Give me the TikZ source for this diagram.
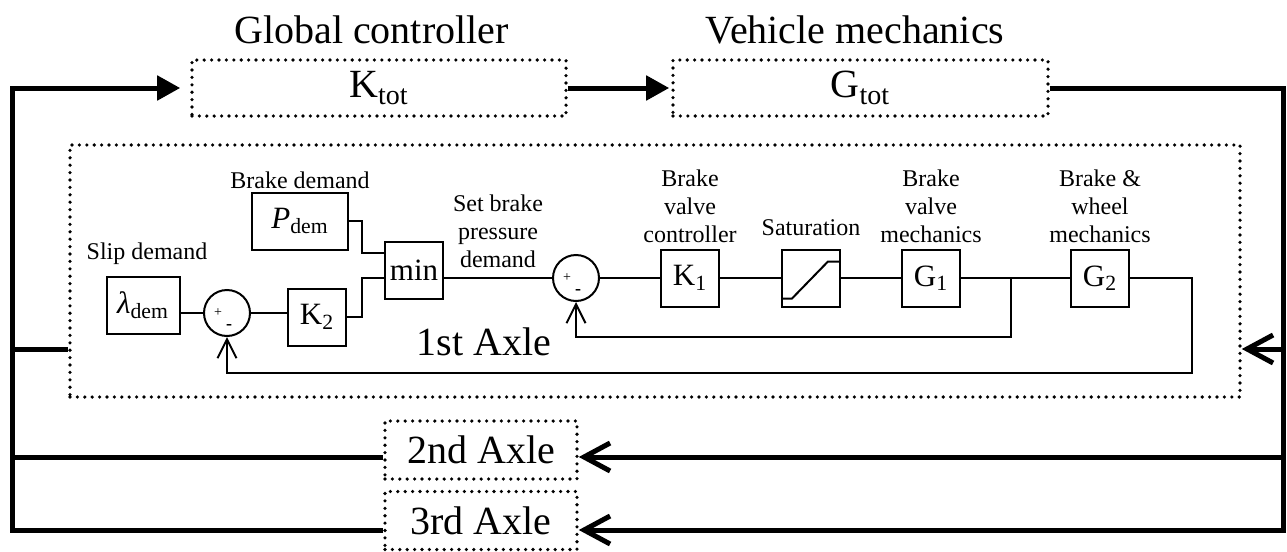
\documentclass[tikz,border=0pt]{standalone}
\usepackage{fontspec}
\setmainfont{Liberation Serif}
\usetikzlibrary{arrows.meta,positioning}

\tikzset{
  blk/.style={draw, line width=1pt, minimum width=29pt, minimum height=28.5pt, inner sep=0pt, font=\fontsize{15.5}{18}\selectfont},
  sumn/.style={draw, circle, line width=1pt, minimum size=23pt, inner sep=0pt},
  sgn/.style={inner sep=0pt, font=\fontsize{7}{8}\selectfont},
  dotbox/.style={draw, line width=1.8pt, dash pattern=on 0pt off 3.7pt, line cap=round, inner sep=0pt, font=\fontsize{20}{24}\selectfont},
  big/.style={inner sep=0pt, font=\fontsize{20}{24}\selectfont},
  lbl/.style={inner sep=0pt, align=center, font=\fontsize{12}{14}\selectfont},
  sig/.style={line width=1pt},
  bus/.style={line width=2.5pt},
  fwd/.style={bus, -{Triangle[length=11.5pt,width=12pt]}, shorten >=1pt},
  back/.style={bus, -{Straight Barb[length=13pt,width=14pt]}},
  fb/.style={sig, -{Straight Barb[length=9.5pt,width=9.5pt]}}
}

\begin{document}
\begin{tikzpicture}[x=0.5pt, y=-0.5pt, on grid, line join=miter]
   \useasboundingbox (0,0) rectangle (1287,552);

   \node[dotbox, minimum width=187pt, minimum height=28pt] (ktot) at (379,88) {K\textsubscript{tot}};
   \node[dotbox, minimum width=187.5pt, minimum height=28pt] (gtot) [right=240.75pt of ktot] {G\textsubscript{tot}};
   \node[big] (ktotlbl) [above left=22.5pt and 3.75pt of ktot, anchor=base] {Global controller};
   \node[big] (gtotlbl) [above left=22.5pt and 2.75pt of gtot, anchor=base] {Vehicle mechanics};

   \node[dotbox, minimum width=585pt, minimum height=126pt] (ax1) at (655,271) {};
   \node[big, anchor=base] (ax1lbl) at (484,355) {1st Axle};
   \node[dotbox, minimum width=96pt, minimum height=29pt] (ax2) at (481,450) {2nd Axle};
   \node[dotbox, minimum width=96pt, minimum height=29pt] (ax3) [below=35.25pt of ax2] {3rd Axle};

   \node[sumn] (sum2) at (576,278) {};
   \node[blk] (k1) [right=57pt of sum2] {K\textsubscript{1}};
   \node[blk] (sat) [right=60.5pt of k1] {};
   \node[blk] (g1) [right=60pt of sat] {G\textsubscript{1}};
   \node[blk] (g2) [right=84.5pt of g1] {G\textsubscript{2}};
   \node[blk] (mn) [above left=4pt and 81pt of sum2] {min};
   \node[blk, minimum width=48pt] (pdem) [above left=24.5pt and 57pt of mn] {\textit{P}\textsubscript{dem}};
   \node[blk] (k2) [below left=23.5pt and 48.5pt of mn] {K\textsubscript{2}};
   \node[sumn] (sum1) [above left=2pt and 45pt of k2] {};
   \node[blk, minimum width=36.5pt] (lam) [above left=4pt and 42pt of sum1] {\textit{λ}\textsubscript{dem}};

   \node[sgn] (s1p) [left=4.5pt of sum1] {+};
   \node[sgn, font=\fontsize{9}{10}\selectfont\bfseries] (s1m) [below right=7pt and 1pt of sum1] {-};
   \node[sgn] (s2p) [left=4.5pt of sum2] {+};
   \node[sgn, font=\fontsize{9}{10}\selectfont\bfseries] (s2m) [below right=7pt and 1pt of sum2] {-};

   \node[lbl] (lamlbl) [above right=23pt and 2pt of lam, anchor=base] {Slip demand};
   \node[lbl] (pdemlbl) [above=16.5pt of pdem, anchor=base] {Brake demand};
   \node[lbl] (setlbl) [above left=5pt and 39pt of sum2, anchor=south] {Set brake\\pressure\\demand};
   \node[lbl] (k1lbl) [above=17.5pt of k1, anchor=south] {Brake\\valve\\controller};
   \node[lbl] (satlbl) [above=21.5pt of sat, anchor=base] {Saturation};
   \node[lbl] (g1lbl) [above=17.5pt of g1, anchor=south] {Brake\\valve\\mechanics};
   \node[lbl] (g2lbl) [above=17.5pt of g2, anchor=south] {Brake \&\\wheel\\mechanics};

   \draw[sig] (sat.south west) ++(0,-9) -- ++(11,0) -- ++(36,-37) -- ++(11,0);

   \coordinate (jp) at (362,253);
   \coordinate (jk) at (362,278);
   \coordinate (jg) at (1011,278);
   \path[sig] (sum2) edge (k1)
              (k1) edge (sat)
              (sat) edge (g1)
              (g1) edge (g2);
   \draw[sig] (lam.east |- sum1) -- (sum1.west);
   \draw[sig] (sum1.east) -- (k2.west |- sum1);
   \draw[sig] (pdem.east) -| (jp) -- (mn.west |- jp);
   \draw[sig] (k2.east) -| (jk) -- (mn.west |- jk);
   \draw[sig] (mn.east |- sum2) -- (sum2.west);
   \draw[fb] (jg) -- ++(0,59) -| (sum2.south);
   \draw[fb] (g2.east) -| ++(62,95) -| (sum1.south);

   \coordinate (tl) at (12,88);
   \coordinate (tr) at (1283,88);
   \coordinate (bl) at (12,530);
   \coordinate (r1) at (1283,349);
   \coordinate (r2) at (1283,457);
   \coordinate (r3) at (1283,530);
   \draw[fwd, shorten >=5pt] (ax3.west |- bl) -- (bl) -- (tl) -- (ktot);
   \path (ktot) edge[fwd] (gtot);
   \draw[back] (gtot) -- (tr) -- (r3) -- (ax3.east |- r3);
   \draw[back] (r2) -- (ax2.east |- r2);
   \draw[back] (r1) -- (ax1.east |- r1);
   \draw[bus] (ax2.west |- r2) -- (tl |- r2);
   \draw[bus] (ax1.west |- r1) -- (tl |- r1);
\end{tikzpicture}
\end{document}
